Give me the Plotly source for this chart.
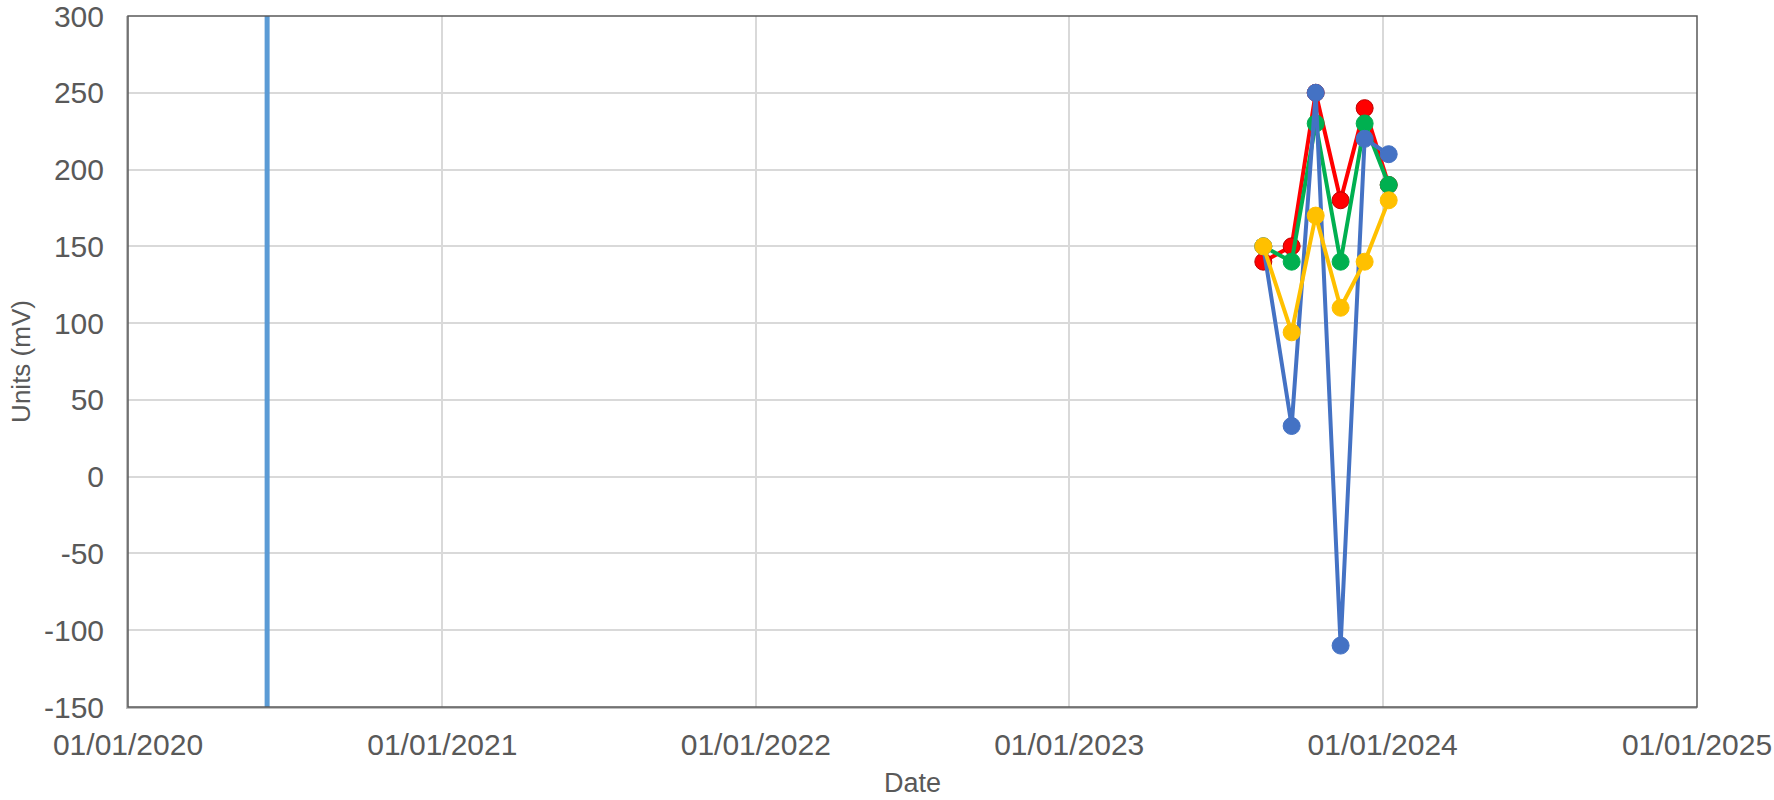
import plotly.graph_objects as go

dates = ["2023-08-15", "2023-09-17", "2023-10-15", "2023-11-13", "2023-12-11", "2024-01-08"]
red_vals = [140, 150, 250, 180, 240, 190]
green_vals = [150, 140, 230, 140, 230, 190]
blue_vals = [150, 33, 250, -110, 220, 210]
yellow_vals = [150, 94, 170, 110, 140, 180]

vline_date = "2020-06-11"
y_range = [-150, 300]
y_ticks = [-150, -100, -50, 0, 50, 100, 150, 200, 250, 300]
y_tick_labels = ["-150", "-100", "-50", "0", "50", "100", "150", "200", "250", "300"]
x_range = ["2020-01-01", "2025-01-01"]
tick_dates = ["2020-01-01", "2021-01-01", "2022-01-01", "2023-01-01", "2024-01-01", "2025-01-01"]
tick_labels = ["01/01/2020", "01/01/2021", "01/01/2022", "01/01/2023", "01/01/2024", "01/01/2025"]

fig = go.Figure()

fig.add_trace(go.Scatter(x=[vline_date, vline_date], y=y_range, mode="lines",
                         line=dict(color="#5B9BD5", width=5), showlegend=False))

series = [
    ("Red", red_vals, "#FF0000", "#C00000"),
    ("Green", green_vals, "#00B050", "#00B050"),
    ("Blue", blue_vals, "#4472C4", "#4472C4"),
    ("Yellow", yellow_vals, "#FFC000", "#FFC000"),
]
for name, vals, col, edge in series:
    fig.add_trace(go.Scatter(x=dates, y=vals, mode="lines+markers", name=name,
                             line=dict(color=col, width=4),
                             marker=dict(size=17, color=col, line=dict(color=edge, width=1)),
                             showlegend=False))

font = dict(family="Liberation Sans, Arial, sans-serif", color="#595959")

fig.update_layout(
    width=1774, height=800,
    margin=dict(l=128, r=77, t=16, b=93),
    paper_bgcolor="white", plot_bgcolor="white",
    font=font,
    showlegend=False,
    shapes=[dict(type="rect", xref="paper", yref="paper", x0=0, y0=0, x1=1, y1=1,
                 line=dict(color="#595959", width=1.5), layer="above")],
)

fig.update_xaxes(
    type="date", range=x_range,
    tickvals=tick_dates, ticktext=tick_labels,
    tickfont=dict(size=30, **font),
    showgrid=True, gridcolor="#D9D9D9", gridwidth=2,
    showline=True, linecolor="#BFBFBF", linewidth=2,
    ticks="", ticklabelstandoff=10, ticklabeloverflow="allow",
    zeroline=False, automargin=False,
    title=dict(text="Date", font=dict(size=27, **font), standoff=13),
)
fig.update_yaxes(
    range=y_range, tickvals=y_ticks, ticktext=y_tick_labels,
    tickfont=dict(size=30, **font),
    showgrid=True, gridcolor="#D9D9D9", gridwidth=2,
    showline=True, linecolor="#BFBFBF", linewidth=2,
    ticks="", ticklabelstandoff=16, ticklabeloverflow="allow",
    zeroline=False, automargin=False,
    title=dict(text="Units (mV)", font=dict(size=26, **font), standoff=6),
)

# remove the browser's default body margin so the figure fills the window exactly
fig.write_html("out.html", config={"displayModeBar": False},
               post_script="document.body.style.margin='0px';")
